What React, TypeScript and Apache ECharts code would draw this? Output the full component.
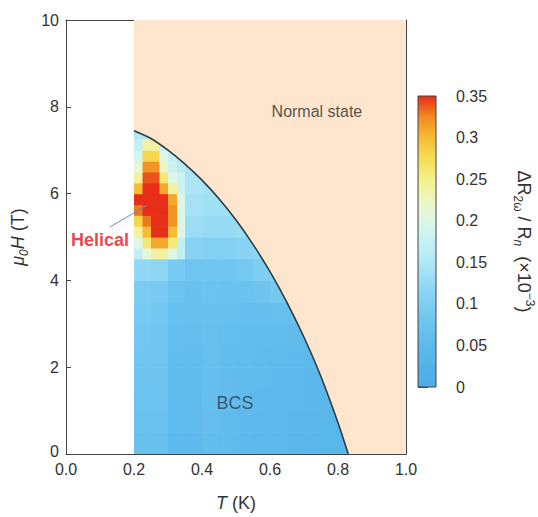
import React, { useEffect, useRef } from "react";
import * as echarts from "echarts";

// ---- axes ----
const X_MIN = 0;
const X_MAX = 1;
const X_STEP = 0.2;
const Y_MIN = 0;
const Y_MAX = 10;
const Y_STEP = 2;
const CB_MIN = 0;
const CB_MAX = 0.35;
const CB_STEP = 0.05;

// ---- colour scale for ΔR2ω / Rn (0 → 0.35, evenly spaced stops) ----
const COLORMAP = [
  "#4eaae4", "#55b2e8", "#5ebaec", "#6cc3ef", "#7ecef2",
  "#96daf4", "#b0e8f6", "#c6f1f4", "#ddf7e6", "#eef6c0",
  "#f4f08a", "#f6dc56", "#f6bc34", "#f08a22", "#e62e18",
];

// ---- upper critical field Hc2(T) ----
const HC_T = [0.2, 0.25, 0.3, 0.35, 0.4, 0.45, 0.5, 0.55, 0.6, 0.65, 0.7, 0.75, 0.8, 0.83];
const HC_H = [7.45, 7.27, 7.0, 6.68, 6.31, 5.88, 5.39, 4.83, 4.2, 3.49, 2.69, 1.78, 0.72, 0];
// normal state above Tc, along the field axis (starts just inside Tc so the fills meet)
const TAIL_T = [0.827, 1.0];
const TAIL_H = [0, 0];

// ---- coarse map: cells of 0.05 K × 0.5 T, rows from H = 0 upward ----
const BASE_DT = 0.05;
const BASE_DH = 0.5;
const BASE_T = [0.2, 0.25, 0.3, 0.35, 0.4, 0.45, 0.5, 0.55, 0.6, 0.65, 0.7, 0.75, 0.8];
const BASE_H = [0, 0.5, 1, 1.5, 2, 2.5, 3, 3.5, 4, 4.5, 5, 5.5, 6, 6.5, 7];
const BASE_MAP = [
  [0.070, 0.070, 0.050, 0.050, 0.060, 0.055, 0.050, 0.048, 0.046, 0.044, 0.042, 0.040, 0.040],
  [0.072, 0.072, 0.052, 0.052, 0.062, 0.056, 0.050, 0.048, 0.046, 0.044, 0.042, 0.040, 0.040],
  [0.075, 0.075, 0.054, 0.054, 0.064, 0.057, 0.052, 0.050, 0.048, 0.046, 0.044, 0.041, 0.040],
  [0.078, 0.078, 0.056, 0.056, 0.065, 0.058, 0.054, 0.052, 0.050, 0.048, 0.045, 0.042, 0.040],
  [0.082, 0.080, 0.060, 0.058, 0.066, 0.060, 0.057, 0.055, 0.053, 0.050, 0.047, 0.044, 0.040],
  [0.086, 0.082, 0.064, 0.062, 0.068, 0.063, 0.060, 0.058, 0.058, 0.056, 0.050, 0.046, 0.040],
  [0.090, 0.085, 0.068, 0.066, 0.070, 0.067, 0.065, 0.064, 0.066, 0.066, 0.058, 0.050, 0.040],
  [0.095, 0.090, 0.075, 0.070, 0.074, 0.072, 0.072, 0.078, 0.088, 0.080, 0.060, 0.050, 0.040],
  [0.120, 0.115, 0.090, 0.080, 0.082, 0.082, 0.088, 0.100, 0.105, 0.090, 0.060, 0.050, 0.040],
  [0.150, 0.155, 0.170, 0.110, 0.105, 0.105, 0.110, 0.115, 0.110, 0.090, 0.060, 0.050, 0.040],
  [0.175, 0.185, 0.200, 0.130, 0.125, 0.125, 0.130, 0.130, 0.110, 0.090, 0.060, 0.050, 0.040],
  [0.185, 0.190, 0.200, 0.140, 0.135, 0.135, 0.140, 0.130, 0.110, 0.090, 0.060, 0.050, 0.040],
  [0.180, 0.185, 0.180, 0.145, 0.140, 0.140, 0.140, 0.130, 0.110, 0.090, 0.060, 0.050, 0.040],
  [0.170, 0.175, 0.160, 0.145, 0.140, 0.140, 0.140, 0.130, 0.110, 0.090, 0.060, 0.050, 0.040],
  [0.150, 0.160, 0.150, 0.140, 0.140, 0.140, 0.140, 0.130, 0.110, 0.090, 0.060, 0.050, 0.040],
];

// ---- fine map around the helical pocket: cells of 0.025 K × 0.25 T ----
const FINE_DT = 0.025;
const FINE_DH = 0.25;
const FINE_T = [0.2, 0.225, 0.25, 0.275, 0.3];
const FINE_H = [4.5, 4.75, 5, 5.25, 5.5, 5.75, 6, 6.25, 6.5, 6.75, 7];
const FINE_MAP = [
  [0.17, 0.21, 0.24, 0.24, 0.20],
  [0.20, 0.26, 0.31, 0.31, 0.26],
  [0.24, 0.30, 0.35, 0.35, 0.30],
  [0.28, 0.33, 0.35, 0.35, 0.32],
  [0.33, 0.35, 0.35, 0.35, 0.32],
  [0.35, 0.35, 0.35, 0.35, 0.31],
  [0.30, 0.35, 0.35, 0.31, 0.24],
  [0.24, 0.34, 0.34, 0.26, 0.20],
  [0.21, 0.32, 0.32, 0.22, 0.18],
  [0.19, 0.28, 0.28, 0.20, 0.17],
  [0.17, 0.24, 0.24, 0.18, 0.16],
];

// ---- annotations ----
const LABEL_NORMAL = { text: "Normal state", t: 0.738, h: 7.9 };
const LABEL_BCS = { text: "BCS", t: 0.497, h: 1.18 };
const LABEL_HELICAL = { text: "Helical", t: 0.1, h: 4.93 };
const HELICAL_LEADER = [
  [0.129, 5.23],
  [0.238, 5.73],
];

const FONT = "'Liberation Sans', Arial, Helvetica, sans-serif";
const TEXT = "#333333";
const FRAME = "#444444";
const PEACH = "#fde6cd";

function cells(ts: number[], hs: number[], grid: number[][]) {
  const out: number[][] = [];
  hs.forEach((h, r) => ts.forEach((t, c) => out.push([t, h, grid[r][c]])));
  return out;
}

function cellRenderer(dt: number, dh: number) {
  return (_params: any, api: any) => {
    const t = api.value(0);
    const h = api.value(1);
    const p0 = api.coord([t, h]);
    const p1 = api.coord([t + dt, h + dh]);
    return {
      type: "rect",
      shape: {
        x: p0[0],
        y: p1[1],
        width: p1[0] - p0[0] + 0.6,
        height: p0[1] - p1[1] + 0.6,
      },
      style: { fill: api.visual("color") },
    };
  };
}

export default function App() {
  const ref = useRef<HTMLDivElement>(null);

  useEffect(() => {
    if (!ref.current) return;
    const chart = echarts.init(ref.current, undefined, { renderer: "svg" });

    const stops = COLORMAP.map((c, i) => ({ offset: i / (COLORMAP.length - 1), color: c }));
    const boundary = HC_T.map((t, i) => [t, HC_H[i]]);
    const tail = TAIL_T.map((t, i) => [t, TAIL_H[i]]);

    const mainAxisCommon = {
      type: "value" as const,
      gridIndex: 0,
      axisLine: { show: true, onZero: false, lineStyle: { color: FRAME, width: 1 } },
      axisTick: { show: true, inside: true, length: 5, lineStyle: { color: FRAME, width: 1 } },
      splitLine: { show: false },
    };

    const option: any = {
      animation: false,
      backgroundColor: "#ffffff",
      textStyle: { fontFamily: FONT },
      grid: [
        { left: 66, top: 20, width: 340, height: 440 },
        { left: 418, top: 96, width: 18, height: 291 },
      ],
      xAxis: [
        {
          ...mainAxisCommon,
          position: "bottom",
          min: X_MIN,
          max: X_MAX,
          interval: X_STEP,
          axisLabel: {
            color: TEXT,
            fontSize: 16,
            fontFamily: FONT,
            margin: 7,
            formatter: (v: number) => v.toFixed(1),
          },
          name: "{i|T} (K)",
          nameLocation: "middle",
          nameGap: 40,
          nameTextStyle: {
            color: TEXT,
            fontSize: 18,
            fontFamily: FONT,
            rich: { i: { fontStyle: "italic", fontSize: 18, fontFamily: FONT, color: TEXT } },
          },
        },
        {
          ...mainAxisCommon,
          position: "top",
          min: X_MIN,
          max: X_MAX,
          interval: X_STEP,
          axisLabel: { show: false },
        },
        {
          type: "value",
          gridIndex: 1,
          min: 0,
          max: 1,
          show: false,
        },
      ],
      yAxis: [
        {
          ...mainAxisCommon,
          position: "left",
          min: Y_MIN,
          max: Y_MAX,
          interval: Y_STEP,
          axisLabel: {
            color: TEXT,
            fontSize: 16,
            fontFamily: FONT,
            margin: 7,
            formatter: (v: number) => (v === 0 ? "{z|0}" : String(v)),
            rich: { z: { fontSize: 16, fontFamily: FONT, color: TEXT, padding: [0, 0, 5, 0] } },
          },
          name: "{i|μ}{s|0}{i|H}{m| (T)}",
          nameLocation: "middle",
          nameRotate: 90,
          nameGap: 21,
          nameTextStyle: {
            color: TEXT,
            fontSize: 18,
            fontFamily: FONT,
            rich: {
              i: { fontStyle: "italic", fontSize: 18, lineHeight: 24, fontFamily: FONT, color: TEXT },
              m: { fontSize: 18, lineHeight: 24, fontFamily: FONT, color: TEXT },
              s: {
                fontStyle: "italic",
                fontSize: 12,
                lineHeight: 12,
                verticalAlign: "bottom",
                fontFamily: FONT,
                color: TEXT,
              },
            },
          },
        },
        {
          ...mainAxisCommon,
          position: "right",
          min: Y_MIN,
          max: Y_MAX,
          interval: Y_STEP,
          axisLabel: { show: false },
        },
        {
          type: "value",
          gridIndex: 1,
          position: "right",
          min: CB_MIN,
          max: CB_MAX,
          interval: CB_STEP,
          axisLine: { show: false },
          axisTick: { show: true, inside: false, length: 10, lineStyle: { color: FRAME, width: 1 } },
          splitLine: { show: false },
          axisLabel: { color: TEXT, fontSize: 16, fontFamily: FONT, margin: 20 },
          name: "{m|ΔR}{s|2ω}{m| / R}{si|n}{m|  (×10}{p|−3}{m|)}",
          nameLocation: "middle",
          nameRotate: -90,
          nameGap: 76,
          nameTextStyle: {
            color: TEXT,
            fontSize: 18,
            fontFamily: FONT,
            rich: {
              m: { fontSize: 18, lineHeight: 24, fontFamily: FONT, color: TEXT },
              s: { fontSize: 12, lineHeight: 12, verticalAlign: "bottom", fontFamily: FONT, color: TEXT },
              si: {
                fontSize: 12,
                lineHeight: 12,
                fontStyle: "italic",
                verticalAlign: "bottom",
                fontFamily: FONT,
                color: TEXT,
              },
              p: { fontSize: 12, lineHeight: 12, verticalAlign: "top", fontFamily: FONT, color: TEXT },
            },
          },
        },
      ],
      visualMap: {
        type: "continuous",
        show: false,
        min: CB_MIN,
        max: CB_MAX,
        dimension: 2,
        seriesIndex: [0, 1],
        inRange: { color: COLORMAP },
      },
      series: [
        {
          type: "custom",
          name: "map",
          xAxisIndex: 0,
          yAxisIndex: 0,
          clip: true,
          z: 1,
          data: cells(BASE_T, BASE_H, BASE_MAP),
          renderItem: cellRenderer(BASE_DT, BASE_DH),
          encode: { x: 0, y: 1 },
        },
        {
          type: "custom",
          name: "helical",
          xAxisIndex: 0,
          yAxisIndex: 0,
          clip: true,
          z: 2,
          data: cells(FINE_T, FINE_H, FINE_MAP),
          renderItem: cellRenderer(FINE_DT, FINE_DH),
          encode: { x: 0, y: 1 },
        },
        {
          // normal-state region: filled from Hc2(T) up to the top of the axis
          type: "line",
          name: "normal",
          xAxisIndex: 0,
          yAxisIndex: 0,
          z: 3,
          data: boundary,
          symbol: "none",
          smooth: 0.3,
          lineStyle: { width: 0 },
          areaStyle: { color: PEACH, opacity: 1, origin: "end" },
        },
        {
          type: "line",
          name: "normal above Tc",
          xAxisIndex: 0,
          yAxisIndex: 0,
          z: 3,
          data: tail,
          symbol: "none",
          lineStyle: { width: 0 },
          areaStyle: { color: PEACH, opacity: 1, origin: "end" },
        },
        {
          type: "line",
          name: "Hc2",
          xAxisIndex: 0,
          yAxisIndex: 0,
          z: 4,
          data: boundary,
          symbol: "none",
          smooth: 0.3,
          lineStyle: { color: "#2f3d42", width: 1.6 },
        },
        {
          type: "line",
          name: "leader",
          xAxisIndex: 0,
          yAxisIndex: 0,
          z: 5,
          data: HELICAL_LEADER,
          symbol: "none",
          lineStyle: { color: "#6f8ea8", width: 1 },
        },
        {
          type: "scatter",
          name: "labels",
          xAxisIndex: 0,
          yAxisIndex: 0,
          z: 6,
          symbolSize: 0,
          data: [
            {
              name: LABEL_NORMAL.text,
              value: [LABEL_NORMAL.t, LABEL_NORMAL.h],
              label: { color: "#2a2a2a", fontSize: 16 },
            },
            {
              name: LABEL_BCS.text,
              value: [LABEL_BCS.t, LABEL_BCS.h],
              label: { color: "#2b3d50", fontSize: 18 },
            },
            {
              name: LABEL_HELICAL.text,
              value: [LABEL_HELICAL.t, LABEL_HELICAL.h],
              label: { color: "#e6141e", fontSize: 18, fontWeight: "bold" },
            },
          ],
          label: {
            show: true,
            position: "inside",
            formatter: "{b}",
            fontFamily: FONT,
          },
          emphasis: { disabled: true },
        },
        {
          // colour bar
          type: "custom",
          name: "colorbar",
          xAxisIndex: 2,
          yAxisIndex: 2,
          z: 1,
          data: [[0, CB_MAX]],
          renderItem: (_p: any, api: any) => {
            const a = api.coord([0, CB_MIN]);
            const b = api.coord([1, CB_MAX]);
            return {
              type: "rect",
              shape: { x: a[0], y: b[1], width: b[0] - a[0], height: a[1] - b[1] },
              style: {
                fill: new echarts.graphic.LinearGradient(0, 1, 0, 0, stops),
                stroke: FRAME,
                lineWidth: 1,
              },
            };
          },
        },
      ],
    };

    chart.setOption(option);
    return () => chart.dispose();
  }, []);

  return (
    <div
      ref={ref}
      style={{ position: "absolute", left: 0, top: 0, width: 538, height: 517 }}
    />
  );
}
